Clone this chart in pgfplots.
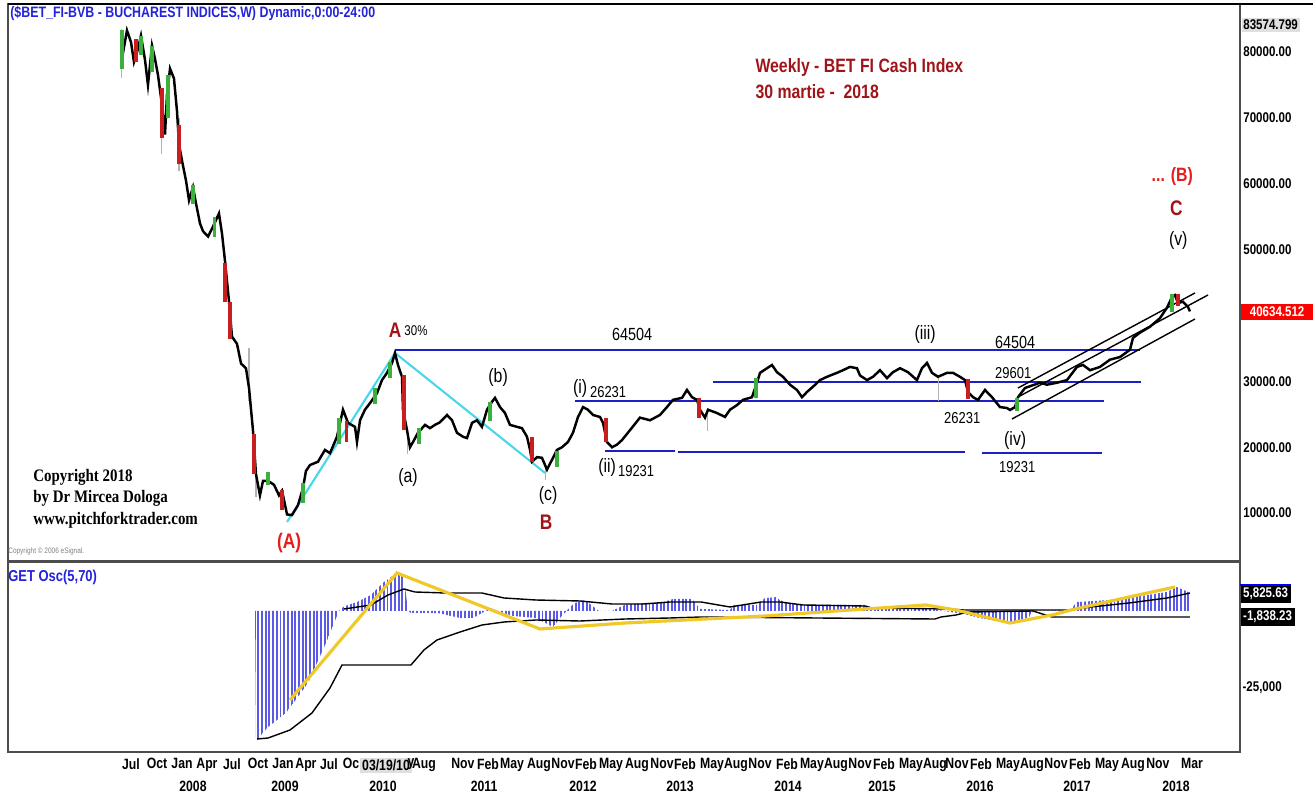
\documentclass[border=0pt]{standalone}
\usepackage{fontspec}
\setmainfont{Liberation Sans}[FakeStretch=0.82]
\newfontfamily\timesb{Liberation Serif}[FakeStretch=0.85]
\usepackage{pgfplots}
\pgfplotsset{compat=1.18}
\usetikzlibrary{patterns.meta}

\definecolor{ttlblue}{RGB}{35,35,215}
\definecolor{dred}{RGB}{160,20,25}
\definecolor{bred}{RGB}{228,30,30}
\definecolor{lvlblue}{RGB}{30,30,200}
\definecolor{cyanl}{RGB}{70,215,235}
\definecolor{histblue}{RGB}{90,90,230}
\definecolor{gold}{RGB}{240,200,40}
\definecolor{cgreen}{RGB}{60,175,60}
\definecolor{cred}{RGB}{200,30,30}
\newcommand\fs[1]{\fontsize{#1}{#1}\selectfont}

\begin{document}
\begin{tikzpicture}
\useasboundingbox (0,0) rectangle (26.26cm,15.88cm);

% ---------------- price panel ----------------
\begin{axis}[
  at={(0.16cm,4.66cm)}, anchor=south west, scale only axis,
  width=24.64cm, height=11.14cm,
  xmin=2006.203, xmax=2018.711, ymin=2730, ymax=87310,
  xtick=\empty, scaled y ticks=false, scaled x ticks=false,
  ytick={10000,20000,30000,50000,60000,70000,80000},
  yticklabels={10000.00,20000.00,30000.00,50000.00,60000.00,70000.00,80000.00},
  yticklabel pos=right,
  yticklabel style={anchor=west,inner sep=0pt,xshift=0.06cm,font=\fs{8}\bfseries},
  major tick length=0pt,
  axis line style={gray!60!black,line width=0.6pt},
  unbounded coords=jump,
]
% level lines
\draw[lvlblue,line width=1.2pt] (axis cs:2010.132,34770) -- (axis cs:2017.695,34770);
\draw[lvlblue,line width=1.2pt] (axis cs:2011.959,27030) -- (axis cs:2017.330,27030);
\draw[lvlblue,line width=1.2pt] (axis cs:2013.360,29910) -- (axis cs:2017.706,29910);
\draw[lvlblue,line width=1.2pt] (axis cs:2012.264,19440) -- (axis cs:2012.975,19440);
\draw[lvlblue,line width=1.2pt] (axis cs:2013.005,19280) -- (axis cs:2015.919,19280);
\draw[lvlblue,line width=1.2pt] (axis cs:2016.091,19130) -- (axis cs:2017.310,19130);
% cyan swing lines
\draw[cyanl,line width=1.2pt] (axis cs:2009.036,8650) -- (axis cs:2010.132,34320) -- (axis cs:2011.655,16100);
% channel
\draw[black,line width=0.8pt] (axis cs:2016.457,29000) -- (axis cs:2018.254,43430);
\draw[black,line width=0.8pt] (axis cs:2016.457,27630) -- (axis cs:2018.386,43120);
\draw[black,line width=0.8pt] (axis cs:2016.396,24290) -- (axis cs:2018.254,39480);

% wicks
\addplot[gray!60,line width=0.6pt] coordinates {
(2007.360,76000) (2007.360,83500) (2007.360,nan)
(2007.766,64500) (2007.766,74500) (2007.766,nan)
(2007.939,62000) (2007.939,70000) (2007.939,nan)
(2008.650,27000) (2008.650,35000) (2008.650,nan)
(2008.721,12500) (2008.721,16000) (2008.721,nan)
(2010.260,19000) (2010.260,23000) (2010.260,nan)
(2011.660,15000) (2011.660,17500) (2011.660,nan)
(2013.300,22500) (2013.300,25500) (2013.300,nan)
(2015.650,27000) (2015.650,31000)
};
% close
\addplot[black,line width=1.4pt] coordinates {
(2007.360,79000) (2007.411,83300) (2007.452,81500) (2007.482,78500) (2007.523,80500)
(2007.553,82500) (2007.594,78800) (2007.624,75000) (2007.665,81000) (2007.695,79000)
(2007.726,76500) (2007.766,72000) (2007.797,67500) (2007.817,73500) (2007.848,77500)
(2007.888,76000) (2007.919,71000) (2007.939,66000) (2007.970,63500) (2008.010,60500)
(2008.041,57500) (2008.081,59500) (2008.112,57000) (2008.152,54000) (2008.183,52800)
(2008.234,52000) (2008.284,53500) (2008.345,55500) (2008.376,52400) (2008.406,48300)
(2008.447,42100) (2008.477,36800) (2008.528,35700) (2008.569,32700) (2008.619,32000)
(2008.650,29000) (2008.690,22600) (2008.721,15900) (2008.761,12700) (2008.792,14900)
(2008.843,14900) (2008.904,14300) (2008.954,12700) (2008.985,13400) (2009.036,9800)
(2009.086,9700) (2009.147,11200) (2009.198,13800) (2009.228,16400) (2009.269,17300)
(2009.350,17800) (2009.421,19600) (2009.472,19100) (2009.543,21600) (2009.604,25700)
(2009.655,23700) (2009.726,23100) (2009.746,20800) (2009.777,24100) (2009.827,25700)
(2009.878,26700) (2009.949,28200) (2010.000,30200) (2010.051,31300) (2010.102,32800)
(2010.132,34300) (2010.162,32500) (2010.203,30700) (2010.213,25700) (2010.254,22600)
(2010.284,20000) (2010.315,20800) (2010.365,22200) (2010.437,23400) (2010.487,22900)
(2010.538,23400) (2010.589,23800) (2010.660,24900) (2010.711,24100) (2010.761,22200)
(2010.822,21600) (2010.863,21400) (2010.914,23700) (2010.964,24100) (2011.015,23100)
(2011.066,25700) (2011.117,26900) (2011.147,27500) (2011.198,26100) (2011.249,25200)
(2011.299,23400) (2011.371,23100) (2011.421,22900) (2011.472,21600) (2011.503,19600)
(2011.523,17800) (2011.574,18500) (2011.624,18400) (2011.675,16600) (2011.726,18100)
(2011.777,19600) (2011.827,20000) (2011.888,20800) (2011.939,22200) (2011.990,24600)
(2012.041,26100) (2012.091,25700) (2012.142,24900) (2012.213,24600) (2012.244,23700)
(2012.284,20800) (2012.335,20000) (2012.386,20400) (2012.437,21100) (2012.518,22600)
(2012.619,24500) (2012.721,24100) (2012.822,24900) (2012.893,26100) (2012.954,27200)
(2013.046,27500) (2013.096,28700) (2013.147,27600) (2013.198,27200) (2013.228,25700)
(2013.279,24500) (2013.310,25700) (2013.401,25200) (2013.482,24600) (2013.533,25700)
(2013.604,26400) (2013.665,27200) (2013.756,27600) (2013.807,29800) (2013.838,31300)
(2013.909,32000) (2013.959,32500) (2014.010,31400) (2014.071,30700) (2014.142,29500)
(2014.213,28700) (2014.264,27600) (2014.315,28400) (2014.376,29200) (2014.447,30200)
(2014.518,30700) (2014.619,31300) (2014.680,31700) (2014.751,32200) (2014.822,32000)
(2014.853,30900) (2014.924,30200) (2014.985,30700) (2015.056,31700) (2015.127,30500)
(2015.188,31400) (2015.259,32000) (2015.340,31400) (2015.431,30200) (2015.482,32000)
(2015.533,32800) (2015.584,31300) (2015.645,30700) (2015.736,31300) (2015.797,31300)
(2015.868,30700) (2015.919,30200) (2015.949,28400) (2016.000,27600) (2016.051,27200)
(2016.122,28700) (2016.193,27600) (2016.274,26100) (2016.345,25960) (2016.376,25660)
(2016.426,26100) (2016.457,27600) (2016.528,29000) (2016.680,29800) (2016.751,29500)
(2016.853,29800) (2016.954,30200) (2017.056,32200) (2017.117,32500) (2017.188,31700)
(2017.289,32200) (2017.391,33300) (2017.492,33700) (2017.594,34800) (2017.624,36600)
(2017.695,37400) (2017.797,38300) (2017.898,39600) (2017.970,41200) (2018.020,42800)
(2018.051,43100) (2018.081,41900) (2018.132,42100) (2018.183,41300) (2018.203,40630)
};
% up candles
\addplot[cgreen,line width=2.2pt] coordinates {
(2007.360,77500) (2007.360,83300) (2007.360,nan)
(2007.553,79500) (2007.553,82500) (2007.553,nan)
(2007.665,77000) (2007.665,81000) (2007.665,nan)
(2007.830,70000) (2007.830,76500) (2007.830,nan)
(2008.081,57000) (2008.081,59800) (2008.081,nan)
(2008.300,52000) (2008.300,55000) (2008.300,nan)
(2008.843,14200) (2008.843,16200) (2008.843,nan)
(2009.200,11500) (2009.200,14500) (2009.200,nan)
(2009.560,20500) (2009.560,24500) (2009.560,nan)
(2009.930,26500) (2009.930,29000) (2009.930,nan)
(2010.080,30500) (2010.080,33000) (2010.080,nan)
(2010.380,20500) (2010.380,23000) (2010.380,nan)
(2011.100,24000) (2011.100,26800) (2011.100,nan)
(2011.780,17000) (2011.780,19500) (2011.780,nan)
(2013.800,27500) (2013.800,30500) (2013.800,nan)
(2016.450,25500) (2016.450,27500) (2016.450,nan)
(2018.020,40500) (2018.020,43200)
};
% down candles
\addplot[cred,line width=2.2pt] coordinates {
(2007.500,78500) (2007.500,82000) (2007.500,nan)
(2007.766,67000) (2007.766,74500) (2007.766,nan)
(2007.939,63000) (2007.939,69000) (2007.939,nan)
(2008.406,42000) (2008.406,48000) (2008.406,nan)
(2008.460,36500) (2008.460,42000) (2008.460,nan)
(2008.700,16000) (2008.700,22000) (2008.700,nan)
(2008.985,10500) (2008.985,13500) (2008.985,nan)
(2009.640,20800) (2009.640,24000) (2009.640,nan)
(2010.225,22600) (2010.225,31000) (2010.225,nan)
(2011.520,17800) (2011.520,21500) (2011.520,nan)
(2012.270,20800) (2012.270,24500) (2012.270,nan)
(2013.220,24500) (2013.220,27500) (2013.220,nan)
(2015.950,27400) (2015.950,30300) (2015.950,nan)
(2018.081,41500) (2018.081,43300)
};
\end{axis}

% ---------------- oscillator panel ----------------
\begin{axis}[
  at={(0.16cm,0.84cm)}, anchor=south west, scale only axis,
  width=24.64cm, height=3.8cm,
  xmin=2006.203, xmax=2018.711, ymin=-45780, ymax=15910,
  ytick=\empty, scaled y ticks=false, scaled x ticks=false,
  xtick={2007.452,2007.716,2007.970,2008.223,2008.477,2008.741,2008.995,2009.228,2009.462,2009.685,
         2010.041,2010.294,2010.426,2010.822,2011.076,2011.320,2011.594,2011.838,2012.071,2012.325,
         2012.589,2012.843,2013.076,2013.350,2013.594,2013.838,2014.112,2014.365,2014.609,2014.853,
         2015.096,2015.371,2015.614,2015.838,2016.081,2016.355,2016.599,2016.843,2017.086,2017.360,
         2017.624,2017.878,2018.223},
  xticklabels={Jul,Oct,Jan,Apr,Jul,Oct,Jan,Apr,Jul,Oc,
         {{\fboxsep=1pt\colorbox{gray!25}{03/19/10}}},y,Aug,Nov,Feb,May,Aug,Nov,Feb,May,
         Aug,Nov,Feb,May,Aug,Nov,Feb,May,Aug,Nov,
         Feb,May,Aug,Nov,Feb,May,Aug,Nov,Feb,May,
         Aug,Nov,Mar},
  xticklabel style={anchor=north,inner sep=0pt,yshift=-0.12cm,font=\fs{8.5}\bfseries},
  extra x ticks={2008.081,2009.015,2010.010,2011.036,2012.041,2013.025,2014.122,2015.076,2016.071,2017.056,2018.061},
  extra x tick labels={2008,2009,2010,2011,2012,2013,2014,2015,2016,2017,2018},
  extra x tick style={xticklabel style={yshift=-0.46cm}},
  major tick length=0pt,
  axis line style={gray!60!black,line width=0.6pt},
]
% histogram
\addplot[draw=none,pattern={Lines[angle=90,distance=2.1pt,line width=1.1pt]},pattern color=histblue] coordinates {
(2008.711,0) (2008.721,-41890) (2008.731,-41890) (2008.843,-37670) (2009.025,-33120)
(2009.249,-23380) (2009.431,-10400) (2009.563,0) (2009.614,1500) (2009.746,2900)
(2009.888,5200) (2010.020,9420) (2010.152,12340) (2010.223,10720) (2010.264,0)
(2010.294,-650) (2010.487,-650) (2010.590,-800) (2010.792,-2270) (2010.924,-2270)
(2011.107,970) (2011.198,-300) (2011.330,-1600) (2011.563,-2300) (2011.736,-5200)
(2011.827,-1500) (2011.950,2500) (2012.061,3570) (2012.200,0) (2012.335,0)
(2012.467,2000) (2012.650,2600) (2012.832,2600) (2012.954,3900) (2013.147,3900)
(2013.228,700) (2013.533,300) (2013.574,1950) (2013.807,1950) (2013.888,4200)
(2014.000,4500) (2014.041,3500) (2014.203,1950) (2014.904,1950) (2014.975,900)
(2015.523,900) (2015.909,-1000) (2016.100,-2500) (2016.376,-3900) (2016.569,-2000)
(2016.609,0) (2016.995,325) (2017.050,2900) (2017.391,3570) (2017.777,5200)
(2017.970,6200) (2018.071,7790) (2018.162,6500) (2018.203,5830)
} \closedcycle;
% lower envelope line
\addplot[black,line width=0.8pt] coordinates {
(2008.731,-41560) (2008.843,-41240) (2009.066,-38640) (2009.289,-33120) (2009.472,-25000)
(2009.594,-17530) (2010.294,-17530) (2010.426,-12660) (2010.558,-9420) (2010.792,-6820)
(2011.015,-4550) (2011.239,-3570) (2011.563,-2920) (2012.010,-3250) (2012.467,-2600)
(2012.924,-2270) (2013.239,-1950) (2015.614,-2600) (2015.675,-1950) (2015.827,-1300)
(2015.949,-325) (2016.609,0) (2016.802,-1950) (2018.203,-1950)
};
% signal line
\addplot[black,line width=0.8pt] coordinates {
(2009.614,650) (2009.888,1950) (2010.061,5200) (2010.223,7140) (2010.335,6170)
(2010.650,5840) (2011.015,5840) (2011.239,4220) (2011.563,3570) (2012.010,3250)
(2012.335,2270) (2012.650,2270) (2012.924,2920) (2013.239,2920) (2013.533,1300)
(2013.848,2920) (2014.041,2920) (2014.274,1950) (2014.904,1620) (2014.975,970)
(2015.756,650) (2015.909,325) (2016.609,325) (2016.995,325) (2017.198,1300)
(2017.584,2600) (2017.970,4220) (2018.203,5840)
};
% swing line
\addplot[gold,line width=1.8pt] coordinates {
(2009.066,-28900) (2010.152,12340) (2011.604,-5840) (2012.467,-3900) (2013.888,-1620)
(2014.904,650) (2015.523,1950) (2015.827,325) (2016.376,-3900) (2016.802,-1300)
(2016.995,325) (2017.584,4550) (2018.051,7790)
};
\end{axis}

% ---------------- annotations (pixel frame) ----------------
\begin{scope}[x=0.02cm,y=-0.02cm,shift={(0,15.88cm)}]
\draw[black,line width=1.2pt] (8,4) -- (1313,4);
\node[anchor=west,inner sep=0pt,text=ttlblue,font=\fs{8.6}\bfseries] at (10,13)
  {(\$BET\_FI-BVB - BUCHAREST INDICES,W) Dynamic,0:00-24:00};
\node[anchor=west,inner sep=0pt,text=dred,font=\fs{11}\bfseries] at (755,68) {Weekly - BET FI Cash Index};
\node[anchor=west,inner sep=0pt,text=dred,font=\fs{11}\bfseries] at (755,92) {30 martie -\ \ 2018};
\node[text=bred,font=\fs{11}\bfseries] at (1172,176) {... (B)};
\node[text=dred,font=\fs{12}\bfseries] at (1176,208) {C};
\node[font=\fs{11}] at (1178,240) {(v)};
\node[text=dred,font=\fs{12}\bfseries] at (395,330) {A};
\node[anchor=west,inner sep=0pt,font=\fs{8}] at (404,331) {30\%};
\node[font=\fs{10}] at (632,334) {64504};
\node[font=\fs{11}] at (925,334) {(iii)};
\node[font=\fs{10}] at (1015,342) {64504};
\node[font=\fs{11}] at (498,377) {(b)};
\node[font=\fs{11}] at (580,388) {(i)};
\node[font=\fs{9}] at (608,392) {26231};
\node[font=\fs{9}] at (1013,373) {29601};
\node[font=\fs{9}] at (962,418) {26231};
\node[font=\fs{11}] at (1015,440) {(iv)};
\node[font=\fs{9}] at (1017,467) {19231};
\node[font=\fs{11}] at (408,477) {(a)};
\node[font=\fs{11}] at (607,467) {(ii)};
\node[font=\fs{9}] at (636,471) {19231};
\node[font=\fs{11}] at (548,495) {(c)};
\node[text=dred,font=\fs{12}\bfseries] at (546,522) {B};
\node[text=bred,font=\fs{12}\bfseries] at (289,543) {(A)};
\node[anchor=west,inner sep=0pt,font=\timesb\fs{10}\bfseries] at (33,477) {Copyright 2018};
\node[anchor=west,inner sep=0pt,font=\timesb\fs{10}\bfseries] at (33,498) {by Dr Mircea Dologa};
\node[anchor=west,inner sep=0pt,font=\timesb\fs{10}\bfseries] at (33,520) {www.pitchforktrader.com};
\node[anchor=west,inner sep=0pt,text=gray,font=\fs{4.5}] at (8,551) {Copyright \textcopyright\ 2006 eSignal.};
\node[anchor=west,inner sep=0pt,text=ttlblue,font=\fs{9}\bfseries] at (8,577) {GET Osc(5,70)};
% value boxes
\node[anchor=west,inner sep=1pt,fill=gray!25,font=\fs{8}\bfseries] at (1241,25) {83574.799};
\node[anchor=west,inner sep=1.5pt,fill=red,text=white,font=\fs{8}\bfseries,minimum width=1.46cm] at (1240,312) {40634.512};
\node[anchor=west,inner sep=1.5pt,fill=black,text=white,font=\fs{8}\bfseries] (v1) at (1240,594) {5,825.63};
\draw[blue,line width=1.2pt] (v1.north west) -- (v1.north east);
\node[anchor=west,inner sep=1.5pt,fill=black,text=white,font=\fs{8}\bfseries] at (1240,617) {-1,838.23};
\node[anchor=west,inner sep=0pt,font=\fs{8}\bfseries] at (1242,688) {-25,000};
\end{scope}
\end{tikzpicture}
\end{document}
